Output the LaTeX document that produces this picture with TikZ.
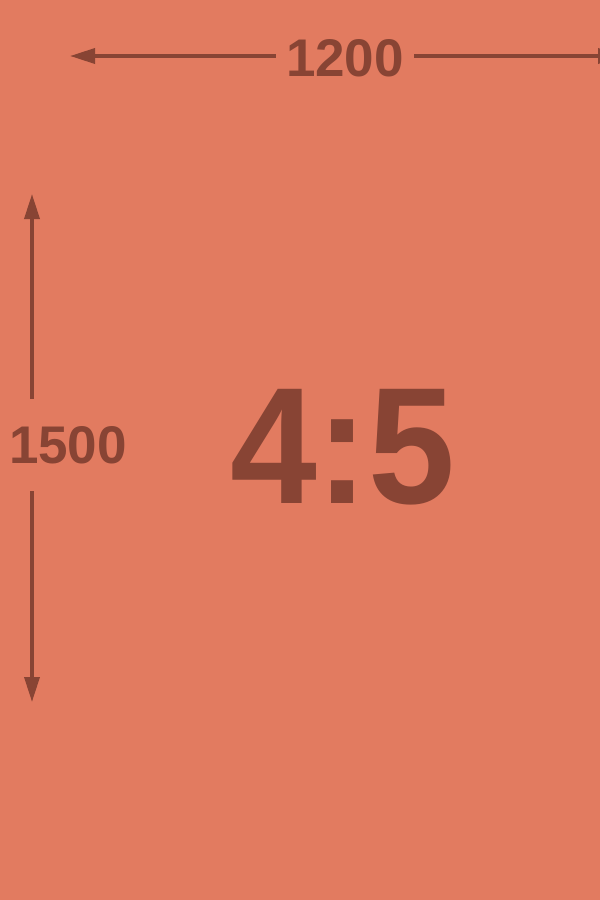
\documentclass[tikz,border=0pt]{standalone}
\usepackage{fontspec}
\setmainfont{Liberation Sans}
\usetikzlibrary{arrows.meta}
\definecolor{bgc}{RGB}{226,123,96}
\definecolor{ink}{RGB}{136,68,52}
\tikzset{
  dimline/.style={draw=ink, line width=3.5pt, -{Triangle[length=25pt,width=15pt]}},
  dimlabel/.style={text=ink, font=\fontsize{53}{53}\selectfont\bfseries, inner sep=0pt},
  ratiolabel/.style={text=ink, font=\fontsize{166}{166}\selectfont\bfseries, inner sep=0pt, xscale=0.94}
}
\begin{document}
\begin{tikzpicture}[x=1pt,y=-1pt]
\fill[bgc] (0,0) rectangle (600,900);
\useasboundingbox (0,0) rectangle (600,900);
\node[dimlabel, inner xsep=10pt] (t1200) at (345,58) {1200};
\node[dimlabel, minimum height=92pt] (t1500) at (68,445) {1500};
\node[ratiolabel] (t45) at (343,447) {4:5};
\coordinate (hl) at (70,56);
\coordinate (hr) at (623,56);
\coordinate (vt) at (32,194);
\coordinate (vb) at (32,702);
\draw[dimline] (t1200.west |- hl) -- (hl);
\draw[dimline] (t1200.east |- hr) -- (hr);
\draw[dimline] (t1500.north -| vt) -- (vt);
\draw[dimline] (t1500.south -| vb) -- (vb);
\end{tikzpicture}
\end{document}
